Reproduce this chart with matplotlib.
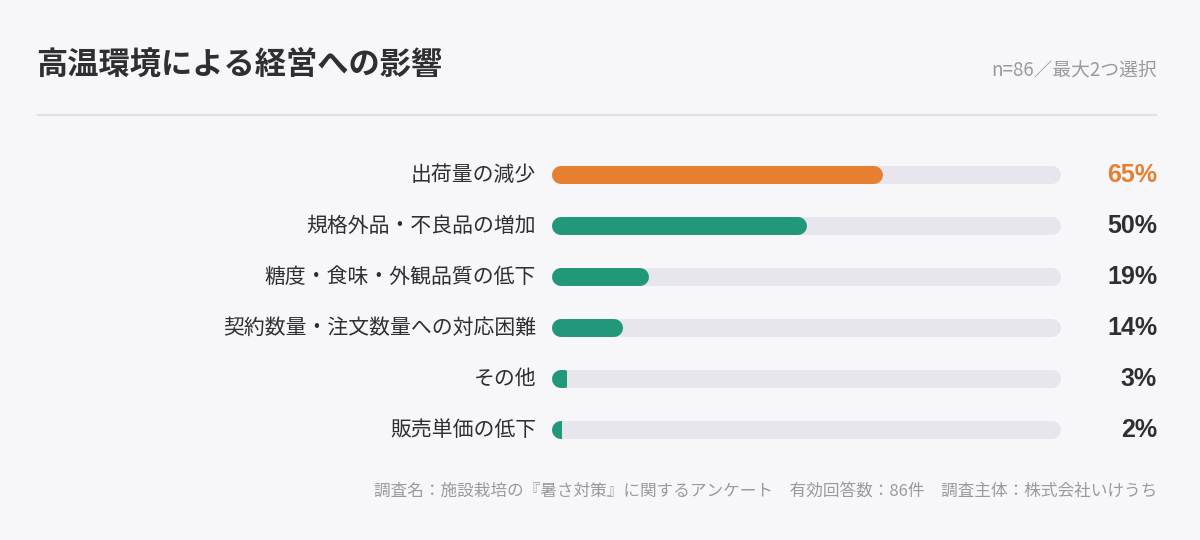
import matplotlib
matplotlib.use("Agg")
import matplotlib.pyplot as plt
from matplotlib.patches import Rectangle
from matplotlib.lines import Line2D
import matplotlib.transforms as mtransforms

plt.rcParams['font.family'] = ['Noto Sans CJK JP', 'DejaVu Sans']

title = "高温環境による経営への影響"
note = "n=86／最大2つ選択"
footer = "調査名：施設栽培の『暑さ対策』に関するアンケート　有効回答数：86件　調査主体：株式会社いけうち"
categories = ["出荷量の減少", "規格外品・不良品の増加", "糖度・食味・外観品質の低下",
              "契約数量・注文数量への対応困難", "その他", "販売単価の低下"]
values = [65, 50, 19, 14, 3, 2]
highlight = [True, False, False, False, False, False]

BG = "#F7F7FA"
ORANGE = "#E67F30"
GREEN = "#21987A"
TRACK = "#E6E6EC"
DARK = "#2F2F33"
GRAY = "#9A9A9E"

W, H = 1200, 540
fig = plt.figure(figsize=(12, 5.4), dpi=100, facecolor=BG)

def fx(px):
    return px / W

def fy(py):
    return 1 - py / H

# header
fig.text(fx(36), fy(65), title, fontsize=22.5, fontweight='bold', color=DARK, va='center', ha='left')
fig.text(fx(1157), fy(70), note, fontsize=13.5, color=GRAY, va='center', ha='right')
fig.add_artist(Line2D([fx(38), fx(1156)], [fy(115), fy(115)], transform=fig.transFigure,
                      color="#E1E1E5", lw=1.6))

# bars
left_px, right_px = 552, 1061
top_px, bot_px = 149.5, 455.5
ax = fig.add_axes([fx(left_px), fy(bot_px), (right_px - left_px) / W, (bot_px - top_px) / H])
ax.set_facecolor('none')
ax.set_xlim(0, 100)
ax.set_ylim(len(categories) - 0.5, -0.5)
ax.axis('off')

bar_px = 18
lw_pt = bar_px * 72 / 100
r = (bar_px / 2) / (right_px - left_px) * 100

lbl_tr = mtransforms.blended_transform_factory(ax.transAxes, ax.transData)
pct_x = (1157 - left_px) / (right_px - left_px)

for i, (cat, v, hl) in enumerate(zip(categories, values, highlight)):
    ax.plot([r, 100 - r], [i, i], color=TRACK, lw=lw_pt, solid_capstyle='round', zorder=1)
    col = ORANGE if hl else GREEN
    x1 = max(v - r, r + 0.6)
    ln, = ax.plot([r, x1], [i, i], color=col, lw=lw_pt, solid_capstyle='round', zorder=2)
    clip = Rectangle((0, i - 0.5), v, 1, transform=ax.transData)
    ln.set_clip_path(clip)
    ax.annotate(cat, xy=(0, i), xytext=(-11.5, 0), textcoords='offset points',
                ha='right', va='center', fontsize=15, color=DARK)
    ax.text(pct_x, i, f"{v}%", transform=lbl_tr, ha='right', va='center',
            fontsize=18, fontweight='bold', color=ORANGE if hl else DARK,
            family=['Liberation Sans', 'DejaVu Sans'])

fig.text(fx(1157), fy(492), footer, fontsize=12, color=GRAY, va='center', ha='right')

fig.savefig("out.png", dpi=100, facecolor=BG)
